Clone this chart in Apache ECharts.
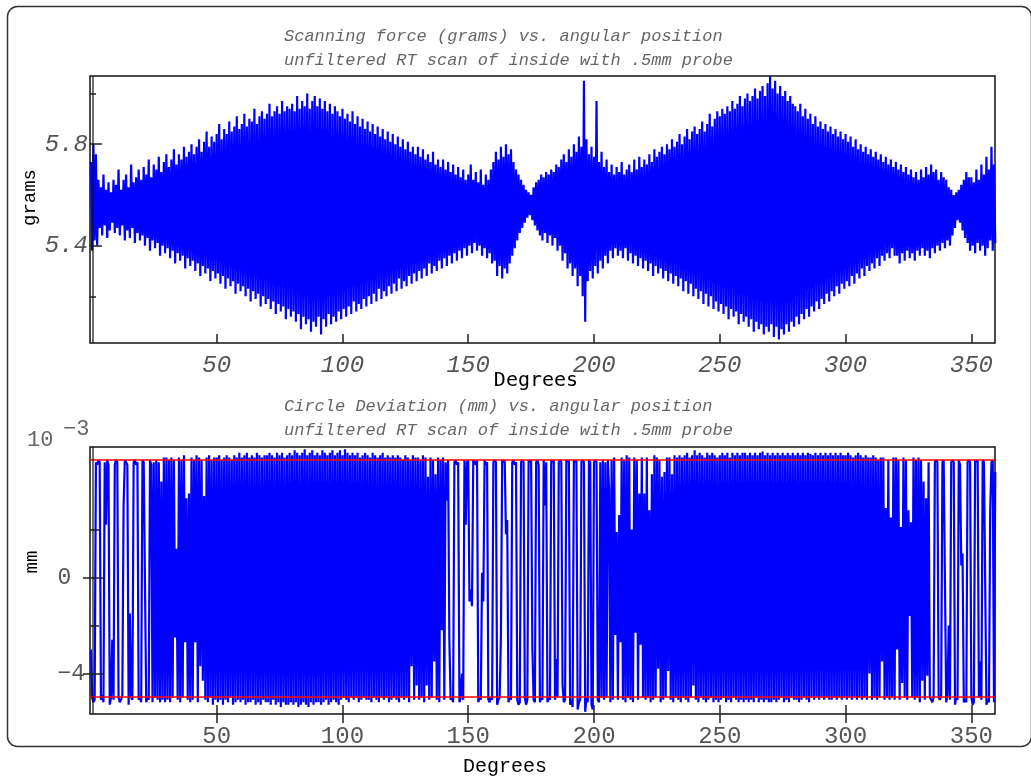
<!DOCTYPE html>
<html>
<head>
<meta charset="utf-8">
<script src="https://cdn.jsdelivr.net/npm/echarts@6/dist/echarts.min.js"></script>
<style>
  html, body { margin: 0; padding: 0; background: #ffffff; }
  #chart { width: 1031px; height: 780px; }
</style>
</head>
<body>
<div id="chart"></div>
<script>
// Scanning force (grams): one reading at each whole degree and one half a degree later
const forceAtDeg = [
  5.73, 5.80, 5.76, 5.66, 5.63, 5.68, 5.62, 5.65, 5.61, 5.66,
  5.64, 5.70, 5.62, 5.66, 5.68, 5.63, 5.72, 5.65, 5.67, 5.70,
  5.66, 5.71, 5.68, 5.74, 5.67, 5.72, 5.70, 5.75, 5.69, 5.73,
  5.76, 5.71, 5.74, 5.78, 5.72, 5.76, 5.74, 5.79, 5.75, 5.77,
  5.80, 5.76, 5.79, 5.82, 5.77, 5.81, 5.85, 5.79, 5.83, 5.81,
  5.84, 5.88, 5.82, 5.86, 5.84, 5.89, 5.85, 5.87, 5.91, 5.86,
  5.88, 5.92, 5.87, 5.90, 5.89, 5.94, 5.88, 5.91, 5.93, 5.90,
  5.92, 5.96, 5.91, 5.93, 5.95, 5.92, 5.97, 5.93, 5.95, 5.94,
  5.96, 5.93, 5.99, 5.94, 5.97, 5.95, 6.00, 5.94, 5.97, 5.99,
  5.95, 5.98, 5.94, 5.97, 5.93, 5.96, 5.92, 5.95, 5.93, 5.91,
  5.94, 5.90, 5.92, 5.89, 5.93, 5.88, 5.91, 5.87, 5.90, 5.86,
  5.89, 5.85, 5.88, 5.84, 5.87, 5.83, 5.86, 5.82, 5.85, 5.81,
  5.84, 5.80, 5.83, 5.79, 5.82, 5.78, 5.81, 5.77, 5.79, 5.76,
  5.79, 5.75, 5.78, 5.74, 5.76, 5.73, 5.77, 5.72, 5.74, 5.71,
  5.74, 5.70, 5.73, 5.69, 5.72, 5.68, 5.71, 5.67, 5.70, 5.66,
  5.68, 5.72, 5.66, 5.69, 5.65, 5.70, 5.64, 5.68, 5.66, 5.70,
  5.73, 5.77, 5.74, 5.79, 5.75, 5.80, 5.76, 5.78, 5.73, 5.70,
  5.68, 5.66, 5.64, 5.62, 5.61, 5.60, 5.63, 5.65, 5.66, 5.68,
  5.67, 5.69, 5.68, 5.70, 5.69, 5.72, 5.71, 5.74, 5.76, 5.73,
  5.78, 5.75, 5.80, 5.77, 5.83, 5.79, 6.05, 5.82, 5.76, 5.79,
  5.75, 5.97, 5.73, 5.77, 5.71, 5.74, 5.69, 5.72, 5.68, 5.71,
  5.69, 5.73, 5.68, 5.70, 5.72, 5.69, 5.74, 5.70, 5.75, 5.71,
  5.74, 5.72, 5.76, 5.73, 5.78, 5.75, 5.77, 5.79, 5.76, 5.80,
  5.78, 5.82, 5.79, 5.81, 5.84, 5.80, 5.83, 5.86, 5.82, 5.85,
  5.87, 5.84, 5.86, 5.89, 5.85, 5.88, 5.92, 5.87, 5.90, 5.93,
  5.91, 5.94, 5.92, 5.95, 5.93, 5.97, 5.94, 5.96, 5.99, 5.95,
  5.98, 6.00, 5.97, 5.99, 6.02, 5.98, 6.01, 6.03, 5.99, 6.04,
  6.07, 6.02, 6.05, 6.00, 6.03, 5.99, 6.01, 5.97, 5.99, 5.96,
  5.95, 5.93, 5.96, 5.91, 5.94, 5.90, 5.92, 5.88, 5.91, 5.87,
  5.89, 5.86, 5.88, 5.85, 5.87, 5.84, 5.86, 5.83, 5.85, 5.82,
  5.84, 5.81, 5.83, 5.79, 5.82, 5.78, 5.80, 5.77, 5.79, 5.76,
  5.78, 5.75, 5.77, 5.74, 5.76, 5.73, 5.75, 5.72, 5.74, 5.71,
  5.73, 5.70, 5.72, 5.69, 5.71, 5.68, 5.70, 5.67, 5.69, 5.66,
  5.70, 5.67, 5.71, 5.68, 5.72, 5.69, 5.70, 5.66, 5.69, 5.67,
  5.66, 5.63, 5.62, 5.60, 5.61, 5.62, 5.64, 5.66, 5.69, 5.67,
  5.67, 5.65, 5.70, 5.66, 5.72, 5.68, 5.75, 5.70, 5.79, 5.72
];
const forceAtHalfDeg = [
  5.38, 5.42, 5.40, 5.47, 5.44, 5.48, 5.43, 5.46, 5.49, 5.45,
  5.47, 5.44, 5.48, 5.42, 5.46, 5.43, 5.47, 5.41, 5.45, 5.42,
  5.44, 5.40, 5.43, 5.38, 5.42, 5.39, 5.41, 5.36, 5.40, 5.37,
  5.39, 5.35, 5.38, 5.33, 5.37, 5.34, 5.36, 5.31, 5.35, 5.32,
  5.34, 5.30, 5.33, 5.28, 5.32, 5.29, 5.31, 5.26, 5.30, 5.27,
  5.29, 5.25, 5.28, 5.23, 5.27, 5.24, 5.26, 5.21, 5.25, 5.22,
  5.24, 5.20, 5.23, 5.18, 5.22, 5.19, 5.21, 5.16, 5.20, 5.17,
  5.19, 5.15, 5.18, 5.13, 5.17, 5.14, 5.16, 5.11, 5.15, 5.12,
  5.14, 5.10, 5.13, 5.07, 5.12, 5.09, 5.11, 5.06, 5.10, 5.08,
  5.12, 5.05, 5.11, 5.08, 5.13, 5.09, 5.12, 5.10, 5.14, 5.11,
  5.15, 5.12, 5.16, 5.13, 5.18, 5.14, 5.17, 5.15, 5.19, 5.16,
  5.20, 5.17, 5.21, 5.18, 5.23, 5.19, 5.22, 5.20, 5.24, 5.21,
  5.25, 5.22, 5.27, 5.23, 5.26, 5.24, 5.28, 5.25, 5.29, 5.26,
  5.30, 5.27, 5.31, 5.28, 5.33, 5.29, 5.32, 5.30, 5.34, 5.31,
  5.35, 5.32, 5.36, 5.33, 5.37, 5.34, 5.38, 5.35, 5.39, 5.36,
  5.40, 5.37, 5.41, 5.38, 5.40, 5.36, 5.39, 5.35, 5.37, 5.33,
  5.34, 5.28, 5.32, 5.27, 5.31, 5.29, 5.33, 5.36, 5.39, 5.42,
  5.45, 5.47, 5.49, 5.51, 5.52, 5.50, 5.48, 5.46, 5.44, 5.42,
  5.45, 5.41, 5.44, 5.40, 5.43, 5.38, 5.40, 5.34, 5.37, 5.31,
  5.33, 5.28, 5.31, 5.24, 5.28, 5.20, 5.10, 5.26, 5.30, 5.27,
  5.32, 5.29, 5.34, 5.31, 5.36, 5.33, 5.38, 5.35, 5.39, 5.36,
  5.38, 5.35, 5.39, 5.34, 5.37, 5.33, 5.36, 5.32, 5.35, 5.31,
  5.34, 5.30, 5.33, 5.28, 5.32, 5.29, 5.31, 5.27, 5.30, 5.26,
  5.29, 5.25, 5.28, 5.24, 5.27, 5.22, 5.26, 5.21, 5.25, 5.20,
  5.23, 5.19, 5.22, 5.17, 5.21, 5.16, 5.20, 5.15, 5.18, 5.14,
  5.17, 5.13, 5.16, 5.11, 5.15, 5.12, 5.14, 5.09, 5.13, 5.10,
  5.12, 5.08, 5.11, 5.06, 5.10, 5.07, 5.09, 5.05, 5.08, 5.06,
  5.09, 5.04, 5.08, 5.03, 5.07, 5.05, 5.09, 5.06, 5.10, 5.08,
  5.12, 5.09, 5.13, 5.11, 5.15, 5.12, 5.16, 5.14, 5.18, 5.15,
  5.19, 5.17, 5.21, 5.18, 5.22, 5.20, 5.24, 5.21, 5.25, 5.23,
  5.26, 5.24, 5.28, 5.25, 5.29, 5.27, 5.31, 5.28, 5.32, 5.30,
  5.33, 5.31, 5.35, 5.32, 5.36, 5.34, 5.37, 5.35, 5.39, 5.36,
  5.36, 5.33, 5.37, 5.34, 5.38, 5.35, 5.37, 5.34, 5.38, 5.36,
  5.39, 5.36, 5.38, 5.35, 5.39, 5.37, 5.40, 5.38, 5.41, 5.39,
  5.42, 5.40, 5.44, 5.47, 5.50, 5.49, 5.46, 5.43, 5.41, 5.38,
  5.40, 5.37, 5.41, 5.38, 5.40, 5.36, 5.39, 5.42, 5.38, 5.41
];

// Circle deviation (units of 10^-3 mm), one reading every half degree from 0
const deviation = [
  -3.0, -5.0, -5.2, -5.1, 4.8, 4.7, 4.9, 4.8, -5.1, -4.9, -5.2, 4.8, 2.2, 4.9, 4.7, -5.3, -5.0, -2.6, -5.1, 4.7,
  4.9, 4.8, -5.0, -5.2, -5.1, -4.9, 3.0, 4.9, 4.8, 4.7, -5.3, -1.5, -5.0, -5.1, 4.8, 4.9, 4.7, 4.8, -5.1, -5.0,
  -5.2, 4.9, 4.8, 4.8, -5.2, -5.0, -5.1, 4.9, 4.7, -5.2, 4.8, -5.0, 4.9, -5.1, 4.8, -5.2, 4.0, -5.1, 5.0, -5.2,
  5.0, -5.1, 4.9, -5.2, 5.0, -5.0, 4.9, -2.5, 1.2, -5.1, 5.0, -5.2, 4.9, -5.0, 5.1, -2.7, 3.3, -5.1, 3.5, -5.2,
  5.0, -5.1, 4.9, -2.7, 5.1, -5.2, 5.0, -3.7, 4.9, -4.3, 3.4, -5.1, 5.0, -5.2, 5.1, -5.0, 4.9, -5.3, 5.0, -5.1,
  5.0, -5.2, 5.1, -5.1, 4.9, -5.3, 5.0, -5.1, 5.1, -5.2, 5.0, -5.0, 4.9, -5.3, 5.1, -5.2, 5.0, -5.1, 5.2, -5.2,
  5.0, -5.1, 5.1, -5.3, 5.2, -5.2, 5.0, -5.2, 5.1, -5.1, 5.0, -5.3, 5.2, -5.2, 5.1, -5.3, 5.0, -5.1, 5.1, -5.2,
  5.1, -5.2, 5.2, -5.3, 5.1, -5.1, 5.0, -5.3, 5.2, -5.2, 5.1, -5.4, 5.2, -5.2, 5.0, -5.3, 5.1, -5.3, 5.2, -5.2,
  5.1, -5.3, 5.3, -5.2, 5.2, -5.4, 5.1, -5.3, 5.2, -5.2, 5.35, -5.3, 5.1, -5.4, 5.2, -5.2, 5.3, -5.3, 5.1, -5.2,
  5.2, -5.2, 5.1, -5.3, 5.3, -5.2, 5.2, -5.1, 5.1, -5.3, 5.2, -5.2, 5.3, -5.1, 5.1, -5.2, 5.2, -5.3, 5.3, -5.1,
  5.1, -5.0, 5.35, -5.1, 5.2, -5.2, 5.1, -5.0, 5.2, -5.1, 5.1, -5.0, 5.2, -5.2, 5.0, -5.1, 5.1, -5.0, 5.2, -5.1,
  5.1, -5.1, 5.0, -5.2, 5.2, -5.0, 5.1, -5.1, 5.0, -5.2, 5.1, -5.0, 5.2, -5.1, 5.0, -5.0, 5.1, -5.2, 5.0, -5.1,
  5.1, -5.0, 5.0, -5.1, 5.1, -5.2, 5.0, -5.0, 4.9, -5.1, 5.1, -5.0, 5.0, -5.2, 4.9, -3.7, 5.1, -5.1, 5.0, -4.5,
  5.0, -5.1, 4.9, -5.0, 5.1, -5.2, 5.0, -4.5, 4.2, -5.1, 5.0, -5.0, 4.9, -3.5, 4.3, -5.1, 5.0, -5.2, 4.9, -2.2,
  5.0, -5.1, 4.8, 3.2, 4.9, -2.6, -5.1, -5.0, -5.2, 4.8, 4.9, 4.7, 4.8, -5.2, -5.0, -4.0, -5.1, 4.9, 2.2, 4.8,
  4.9, -1.0, -0.5, -1.2, 4.9, 4.8, 4.7, 4.9, -5.2, -5.0, -5.1, 0.2, -1.0, 4.9, 4.7, 4.8, -5.1, -5.2, -5.0, -5.1,
  4.8, 4.9, 4.8, -5.3, -5.1, -5.0, -2.4, 4.9, 4.8, 4.9, 1.8, 2.4, -5.2, -5.0, -5.1, 4.8, 4.9, 4.7, 4.8, -5.1,
  -5.3, -5.2, 4.8, 4.9, 4.8, -5.0, -5.3, -5.1, 4.9, 4.8, 4.9, -3.0, -5.1, -5.2, 4.8, 4.9, 4.7, -5.2, -5.0, -5.1,
  4.9, 3.0, 4.8, -5.2, -5.0, -5.1, 4.9, 4.8, 4.9, -5.1, -3.4, -5.0, 4.8, 4.9, 4.8, -4.5, -5.2, -5.1, 4.9, 4.8,
  4.9, -5.3, -5.1, -5.4, 4.9, 4.8, 4.9, -5.5, -5.2, -5.1, 4.8, 4.9, 4.8, -5.6, -5.0, -5.2, 4.9, 4.8, -5.3, -5.5,
  4.8, 4.9, 4.8, -5.1, -5.2, 4.8, -5.0, 4.9, -5.1, 4.8, -5.0, 4.9, 3.6, -5.2, 4.9, -5.1, 5.0, -2.4, 1.9, -5.1,
  2.6, -2.7, 5.0, -5.1, 4.9, -5.2, 5.1, -5.0, 5.0, -5.1, 2.0, -5.2, 5.0, -2.3, 4.9, -5.1, 3.5, -2.8, 5.0, -5.0,
  3.5, -5.1, 5.0, -5.0, 2.8, -5.2, 4.3, -5.1, 5.1, -5.0, 5.0, -3.8, 4.9, -5.2, 4.2, -5.1, 4.4, -5.0, 5.0, -3.9,
  5.0, -5.1, 4.3, -5.2, 5.1, -5.0, 5.0, -5.1, 5.1, -5.2, 5.0, -5.0, 5.1, -5.1, 5.2, -5.2, 5.0, -5.0, 5.1, -4.5,
  5.3, -5.1, 5.1, -5.2, 5.2, -5.0, 5.1, -5.1, 5.0, -5.2, 5.2, -5.1, 5.1, -5.0, 5.2, -5.2, 5.1, -5.1, 5.0, -5.2,
  5.1, -5.1, 5.2, -5.0, 5.1, -5.2, 5.2, -5.1, 5.0, -5.2, 5.2, -5.0, 5.1, -5.1, 5.2, -5.2, 5.1, -5.1, 5.2, -5.2,
  5.2, -5.1, 5.1, -5.2, 5.2, -5.1, 5.1, -5.2, 5.2, -5.0, 5.1, -5.2, 5.2, -5.1, 5.25, -5.2, 5.1, -5.1, 5.2, -5.2,
  5.1, -5.2, 5.2, -5.1, 5.1, -5.2, 5.2, -5.1, 5.1, -5.0, 5.2, -5.2, 5.1, -5.1, 5.2, -5.2, 5.1, -5.0, 5.2, -5.1,
  5.1, -5.1, 5.2, -5.2, 5.1, -5.1, 5.2, -5.0, 5.1, -5.1, 5.2, -5.2, 5.15, -5.0, 5.1, -5.1, 5.2, -5.0, 5.1, -5.1,
  5.2, -5.0, 5.1, -5.1, 5.2, -5.0, 5.1, -5.1, 5.2, -5.1, 5.1, -5.0, 5.2, -5.1, 5.1, -5.0, 5.2, -5.1, 5.1, -5.0,
  5.1, -5.1, 5.2, -5.0, 5.1, -5.1, 5.0, -5.0, 5.1, -5.1, 5.2, -5.0, 5.1, -5.1, 5.0, -5.0, 5.1, -5.1, 5.0, -4.0,
  5.0, -5.1, 5.1, -5.0, 5.0, -5.1, 4.9, -5.0, 5.0, -3.5, 5.0, -5.1, 2.9, -5.0, 4.9, -5.1, 2.5, -5.0, 5.0, -5.1,
  5.0, -3.0, 4.9, -5.1, 2.1, -4.4, 5.0, -5.0, 4.9, -5.1, 2.8, -1.6, 2.3, -5.0, 5.0, -5.1, 4.9, -5.0, 5.0, -5.2,
  4.9, -4.3, 4.0, -5.1, 3.3, -4.1, 4.8, -5.0, -5.1, -5.2, -5.0, 4.8, 4.9, 4.8, -5.0, -5.1, -4.9, 4.8, 4.9, 4.9,
  -5.2, -4.9, -2.0, -5.1, 4.8, 4.9, 4.8, -5.3, -5.0, -5.1, 4.9, 4.7, 0.5, 1.0, -5.2, -5.1, -5.2, 4.8, 4.9, 4.8,
  -5.0, -5.3, -5.2, 4.9, 4.8, 4.9, -5.0, -3.5, -5.1, 4.9, 4.8, 4.8, -5.3, -5.1, -5.2, 2.8, 4.8, 4.9, -5.2, 4.4
];

// Tolerance band drawn in red on the deviation plot
const devLimits = [4.9, -4.97];

// Axis ticks and labels
const degreeTicks = [50, 100, 150, 200, 250, 300, 350];
const forceLabelTicks = [5.4, 5.8];
const forceMinorTicks = [5.2, 5.6, 6.0];
const devLabelTicks = [0, -4];
const devMinorTicks = [2, -2];

const titles = {
  force: ['Scanning force (grams) vs. angular position', 'unfiltered RT scan of inside with .5mm probe'],
  dev: ['Circle Deviation (mm) vs. angular position', 'unfiltered RT scan of inside with .5mm probe']
};

// pair each whole-degree reading with its half-degree neighbour
function interleave(atDeg, atHalf) {
  const out = [];
  for (let i = 0; i < atDeg.length; i++) {
    out.push([i, atDeg[i]]);
    out.push([i + 0.5, atHalf[i]]);
  }
  return out;
}
const HALF_DEG = 0.5;
const deviationPoints = deviation.map((v, i) => [i * HALF_DEG, v]);

const MONO = '"Liberation Mono", "DejaVu Sans Mono", monospace';
const X_MIN = -0.35, X_MAX = 359.4;
const TICK = '#222';

function xAxis(grid, opts) {
  return Object.assign({
    type: 'value', gridIndex: grid, min: X_MIN, max: X_MAX, position: 'bottom',
    splitLine: { show: false },
    axisLine: { show: false, onZero: false },
    axisTick: { show: false },
    axisLabel: { show: false }
  }, opts);
}
function yAxis(grid, min, max, opts) {
  return Object.assign({
    type: 'value', gridIndex: grid, min: min, max: max, position: 'left',
    splitLine: { show: false },
    axisLine: { show: false, onZero: false },
    axisTick: { show: false },
    axisLabel: { show: false }
  }, opts);
}
function ticks(values, length, inside) {
  return { show: true, customValues: values, length: length, inside: inside,
           lineStyle: { color: TICK, width: 1.5 } };
}

const option = {
  animation: false,
  backgroundColor: '#ffffff',
  grid: [
    { left: 90, top: 76, width: 905, height: 267, show: true, borderColor: '#111', borderWidth: 1.5 },
    { left: 90, top: 447, width: 905, height: 267, show: true, borderColor: '#111', borderWidth: 1.5 }
  ],
  xAxis: [
    xAxis(0, {
      axisTick: ticks(degreeTicks, 9, true),
      axisLabel: { show: true, customValues: degreeTicks, margin: 11, color: '#555',
                   fontFamily: MONO, fontSize: 24, fontStyle: 'italic' }
    }),
    xAxis(1, {
      axisTick: ticks(degreeTicks, 9, false),
      axisLabel: { show: true, customValues: degreeTicks, margin: 11, color: '#555',
                   fontFamily: MONO, fontSize: 24 }
    }),
    xAxis(1, { axisTick: ticks(degreeTicks, 9, true), z: 5 })
  ],
  yAxis: [
    yAxis(0, 5.016, 6.069, {
      z: 5,
      axisTick: ticks(forceLabelTicks, 12, true),
      axisLabel: { show: true, customValues: forceLabelTicks, margin: 2, color: '#555',
                   fontFamily: MONO, fontSize: 24, fontStyle: 'italic',
                   formatter: v => v.toFixed(1) }
    }),
    yAxis(0, 5.016, 6.069, { z: 0, axisTick: ticks(forceMinorTicks, 6, true) }),
    yAxis(1, -5.69, 5.44, {
      z: 5,
      axisTick: ticks(devLabelTicks, 7, false),
      axisLabel: { show: true, customValues: devLabelTicks, margin: 5, color: '#555',
                   fontFamily: MONO, fontSize: 23,
                   formatter: v => (v === 0 ? '0 ' : String(v).replace('-', '\u2212')) }
    }),
    yAxis(1, -5.69, 5.44, { z: 5, axisTick: ticks(devLabelTicks, 13, true) }),
    yAxis(1, -5.69, 5.44, { z: 5, axisTick: ticks(devMinorTicks, 9, true) })
  ],
  series: [
    {
      name: 'Scanning force', type: 'line', xAxisIndex: 0, yAxisIndex: 0,
      data: interleave(forceAtDeg, forceAtHalfDeg),
      showSymbol: false, symbol: 'none', silent: true, clip: true,
      lineStyle: { color: '#0000ff', width: 2.2, join: 'bevel' },
      itemStyle: { color: '#0000ff' }
    },
    {
      name: 'Circle deviation', type: 'line', xAxisIndex: 1, yAxisIndex: 2,
      data: deviationPoints,
      showSymbol: false, symbol: 'none', silent: true, clip: true,
      lineStyle: { color: '#0000ff', width: 2.2, join: 'bevel' },
      itemStyle: { color: '#0000ff' },
      markLine: {
        silent: true, symbol: ['none', 'none'], animation: false,
        label: { show: false },
        lineStyle: { color: '#ff0000', width: 1.5, type: 'solid' },
        data: devLimits.map(v => ({ yAxis: v }))
      }
    }
  ],
  graphic: [
    // rounded frame around both panels
    { type: 'rect', silent: true, z: -10,
      shape: { x: 7.5, y: 6.5, width: 1024, height: 740, r: 10 },
      style: { fill: 'none', stroke: '#333', lineWidth: 1.5 } },
    // inner rule of the double left edge
    { type: 'line', silent: true, z: 10,
      shape: { x1: 93, y1: 76, x2: 93, y2: 343 }, style: { stroke: '#111', lineWidth: 1.2 } },
    { type: 'line', silent: true, z: 10,
      shape: { x1: 93, y1: 447, x2: 93, y2: 714 }, style: { stroke: '#111', lineWidth: 1.2 } },
    // panel titles
    { type: 'text', silent: true, style: { x: 284, y: 36, text: titles.force[0], font: 'italic 17px ' + MONO, fill: '#666', verticalAlign: 'middle' } },
    { type: 'text', silent: true, style: { x: 284, y: 60, text: titles.force[1], font: 'italic 17px ' + MONO, fill: '#666', verticalAlign: 'middle' } },
    { type: 'text', silent: true, style: { x: 284, y: 406, text: titles.dev[0], font: 'italic 17px ' + MONO, fill: '#666', verticalAlign: 'middle' } },
    { type: 'text', silent: true, style: { x: 284, y: 430, text: titles.dev[1], font: 'italic 17px ' + MONO, fill: '#666', verticalAlign: 'middle' } },
    // axis names
    { type: 'text', silent: true, style: { x: 536, y: 381, text: 'Degrees', font: '20px "DejaVu Sans Mono", monospace', fill: '#000', align: 'center', verticalAlign: 'middle' } },
    { type: 'text', silent: true, style: { x: 505, y: 767, text: 'Degrees', font: '20px ' + MONO, fill: '#000', align: 'center', verticalAlign: 'middle' } },
    { type: 'text', silent: true, x: 30, y: 197.5, rotation: Math.PI / 2,
      style: { x: 0, y: 0, text: 'grams', font: '19px ' + MONO, fill: '#000', align: 'center', verticalAlign: 'middle' } },
    { type: 'text', silent: true, x: 32, y: 562, rotation: Math.PI / 2,
      style: { x: 0, y: 0, text: 'mm', font: '19px ' + MONO, fill: '#000', align: 'center', verticalAlign: 'middle' } },
    // scale factor of the deviation axis
    { type: 'text', silent: true, style: { x: 27, y: 440.5, text: '10', font: '22px ' + MONO, fill: '#666', verticalAlign: 'middle' } },
    { type: 'text', silent: true, style: { x: 63, y: 429.5, text: '\u22123', font: '22px ' + MONO, fill: '#666', verticalAlign: 'middle' } }
  ]
};

const chart = echarts.init(document.getElementById('chart'), null, { renderer: 'canvas' });
chart.setOption(option);
</script>
</body>
</html>
